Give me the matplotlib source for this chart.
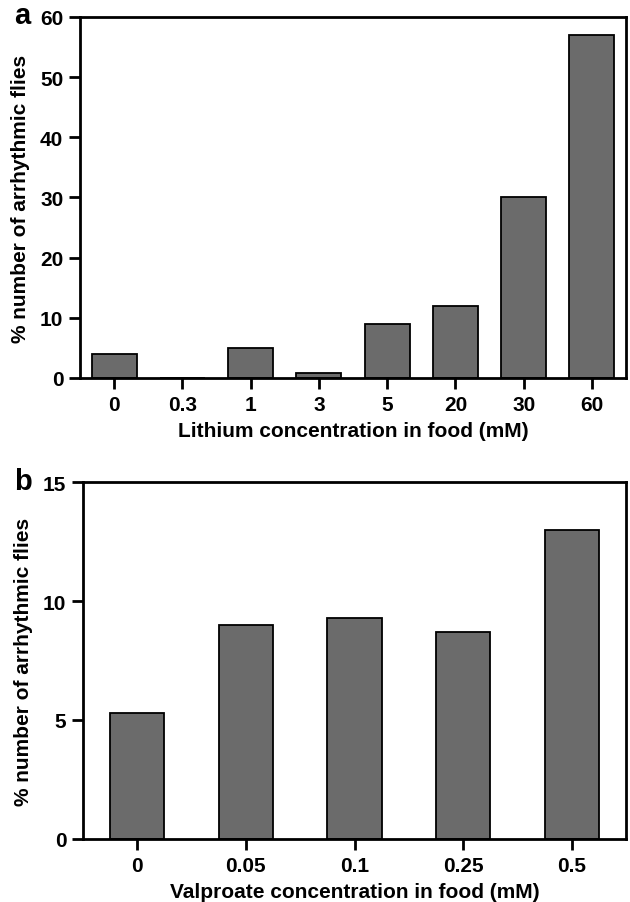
import matplotlib
matplotlib.use("Agg")
import matplotlib.pyplot as plt
from matplotlib import font_manager

li_labels = ["0", "0.3", "1", "3", "5", "20", "30", "60"]
li_values = [4, 0, 5, 0.8, 9, 12, 30, 57]
va_labels = ["0", "0.05", "0.1", "0.25", "0.5"]
va_values = [5.3, 9.0, 9.3, 8.7, 13.0]

names = {f.name for f in font_manager.fontManager.ttflist}
fam = "Liberation Sans Narrow" if "Liberation Sans Narrow" in names else "Liberation Sans"
plt.rcParams["font.family"] = [fam, "DejaVu Sans"]
plt.rcParams["font.weight"] = "bold"

fig = plt.figure(figsize=(6.3, 9.03), dpi=100)
bar_color = "#6b6b6b"

def style(ax, ymax, yticks, labels, xlabel):
    ax.set_ylim(0, ymax)
    ax.set_xlim(-0.5, len(labels) - 0.5)
    ax.set_yticks(yticks)
    ax.set_xticks(range(len(labels)))
    ax.set_xticklabels(labels)
    for s in ax.spines.values():
        s.set_linewidth(2.0)
    ax.tick_params(axis="both", direction="out", length=8, width=2.0,
                   labelsize=15, pad=4)
    for t in ax.get_xticklabels() + ax.get_yticklabels():
        t.set_fontweight("bold")
    ax.set_xlabel(xlabel, fontsize=15, fontweight="bold",
                  family=["Liberation Sans", "DejaVu Sans"], labelpad=5)
    ax.set_ylabel("% number of arrhythmic flies", fontsize=15, fontweight="bold",
                  family=["Liberation Sans", "DejaVu Sans"], labelpad=7)

ax1 = fig.add_axes([0.127, 0.5803, 0.8667, 0.3998])
ax1.bar(range(len(li_labels)), li_values, width=0.66, color=bar_color,
        edgecolor="black", linewidth=1.3, zorder=2)
style(ax1, 60, [0, 10, 20, 30, 40, 50, 60], li_labels,
      "Lithium concentration in food (mM)")

ax2 = fig.add_axes([0.1317, 0.0698, 0.862, 0.3953])
ax2.bar(range(len(va_labels)), va_values, width=0.5, color=bar_color,
        edgecolor="black", linewidth=1.3, zorder=2)
style(ax2, 15, [0, 5, 10, 15], va_labels,
      "Valproate concentration in food (mM)")

fig.text(0.022, 0.982, "a", fontsize=21, fontweight="bold", va="center", ha="left",
         family=["Liberation Sans", "DejaVu Sans"])
fig.text(0.022, 0.466, "b", fontsize=21, fontweight="bold", va="center", ha="left",
         family=["Liberation Sans", "DejaVu Sans"])

fig.savefig("out.png", dpi=100, facecolor="white")
